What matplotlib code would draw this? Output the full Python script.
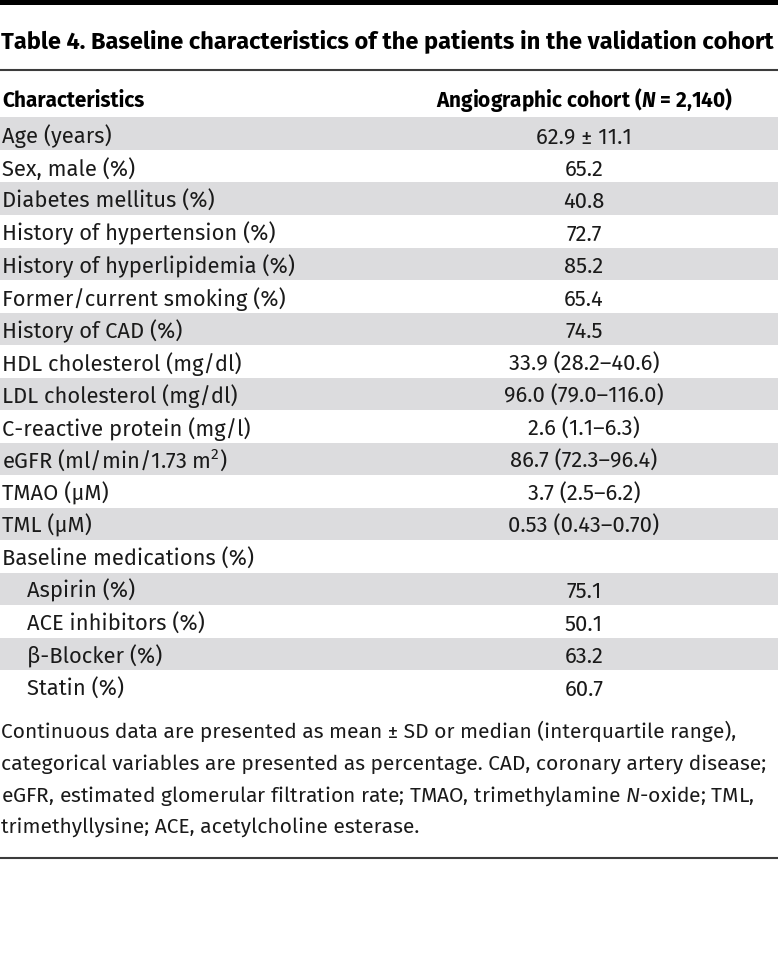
import matplotlib
matplotlib.use("Agg")
import matplotlib.pyplot as plt

# ---------------- data ----------------
title = "Table 4. Baseline characteristics of the patients in the validation cohort"
header_left = "Characteristics"
header_right = r"Angiographic cohort ($\mathbfit{N}$ = 2,140)"

characteristics = [
    "Age (years)",
    "Sex, male (%)",
    "Diabetes mellitus (%)",
    "History of hypertension (%)",
    "History of hyperlipidemia (%)",
    "Former/current smoking (%)",
    "History of CAD (%)",
    "HDL cholesterol (mg/dl)",
    "LDL cholesterol (mg/dl)",
    "C-reactive protein (mg/l)",
    r"eGFR (ml/min/1.73 m$^{2}$)",
    "TMAO (μM)",
    "TML (μM)",
    "Baseline medications (%)",
    "Aspirin (%)",
    "ACE inhibitors (%)",
    "β-Blocker (%)",
    "Statin (%)",
]
values = [
    "62.9 ± 11.1",
    "65.2",
    "40.8",
    "72.7",
    "85.2",
    "65.4",
    "74.5",
    "33.9 (28.2–40.6)",
    "96.0 (79.0–116.0)",
    "2.6 (1.1–6.3)",
    "86.7 (72.3–96.4)",
    "3.7 (2.5–6.2)",
    "0.53 (0.43–0.70)",
    "",
    "75.1",
    "50.1",
    "63.2",
    "60.7",
]
indented = [False] * 14 + [True] * 4

footnote_lines = [
    "Continuous data are presented as mean ± SD or median (interquartile range),",
    "categorical variables are presented as percentage. CAD, coronary artery disease;",
    r"eGFR, estimated glomerular filtration rate; TMAO, trimethylamine $\mathit{N}$-oxide; TML,",
    "trimethyllysine; ACE, acetylcholine esterase.",
]

# ---------------- style ----------------
FAM = "Fira Sans"
plt.rcParams["font.family"] = [FAM, "DejaVu Sans"]
plt.rcParams["mathtext.fontset"] = "custom"
plt.rcParams["mathtext.rm"] = FAM
plt.rcParams["mathtext.it"] = FAM + ":italic"
plt.rcParams["mathtext.bf"] = FAM + ":bold"
plt.rcParams["mathtext.bfit"] = FAM + ":italic:bold"

W, H = 778, 980
TXT = "#1a1a1a"
SHADE = "#dcdcde"
RULE = "#3c3c3c"

fig = plt.figure(figsize=(W / 100, H / 100), dpi=100)
ax = fig.add_axes([0, 0, 1, 1])
ax.set_xlim(0, W)
ax.set_ylim(H, 0)
ax.axis("off")

# top black bar
ax.axhspan(0, 5.5, color="black", lw=0)

# title
ax.text(1, 48, title, fontsize=17, fontweight="bold", color="black",
        ha="left", va="baseline")

# rule under title
ax.axhline(70, color=RULE, lw=1.5)

# header
ax.text(2, 107, header_left, fontsize=15, fontweight="bold", color="black",
        ha="left", va="baseline")
ax.text(585, 107, header_right, fontsize=15, fontweight="bold", color="black",
        ha="center", va="baseline")

# rows
row_top0 = 117.5
row_h = 32.5
for i, (name, val, ind) in enumerate(zip(characteristics, values, indented)):
    top = row_top0 + i * row_h
    if i % 2 == 0:
        ax.axhspan(top, top + row_h, color=SHADE, lw=0, zorder=0)
    base = top + 25.5
    ax.text(27 if ind else 2, base, name, fontsize=15.8, color=TXT,
            ha="left", va="baseline")
    if val:
        ax.text(584, base, val, fontsize=15.8, color=TXT,
                ha="center", va="baseline")

# footnote
fn_base0 = 738
fn_step = 31.7
for j, line in enumerate(footnote_lines):
    ax.text(1, fn_base0 + j * fn_step, line, fontsize=15.1, color=TXT,
            ha="left", va="baseline")

# bottom rule
ax.axhline(858, color=RULE, lw=1.5)

fig.savefig("out.png", dpi=100)
